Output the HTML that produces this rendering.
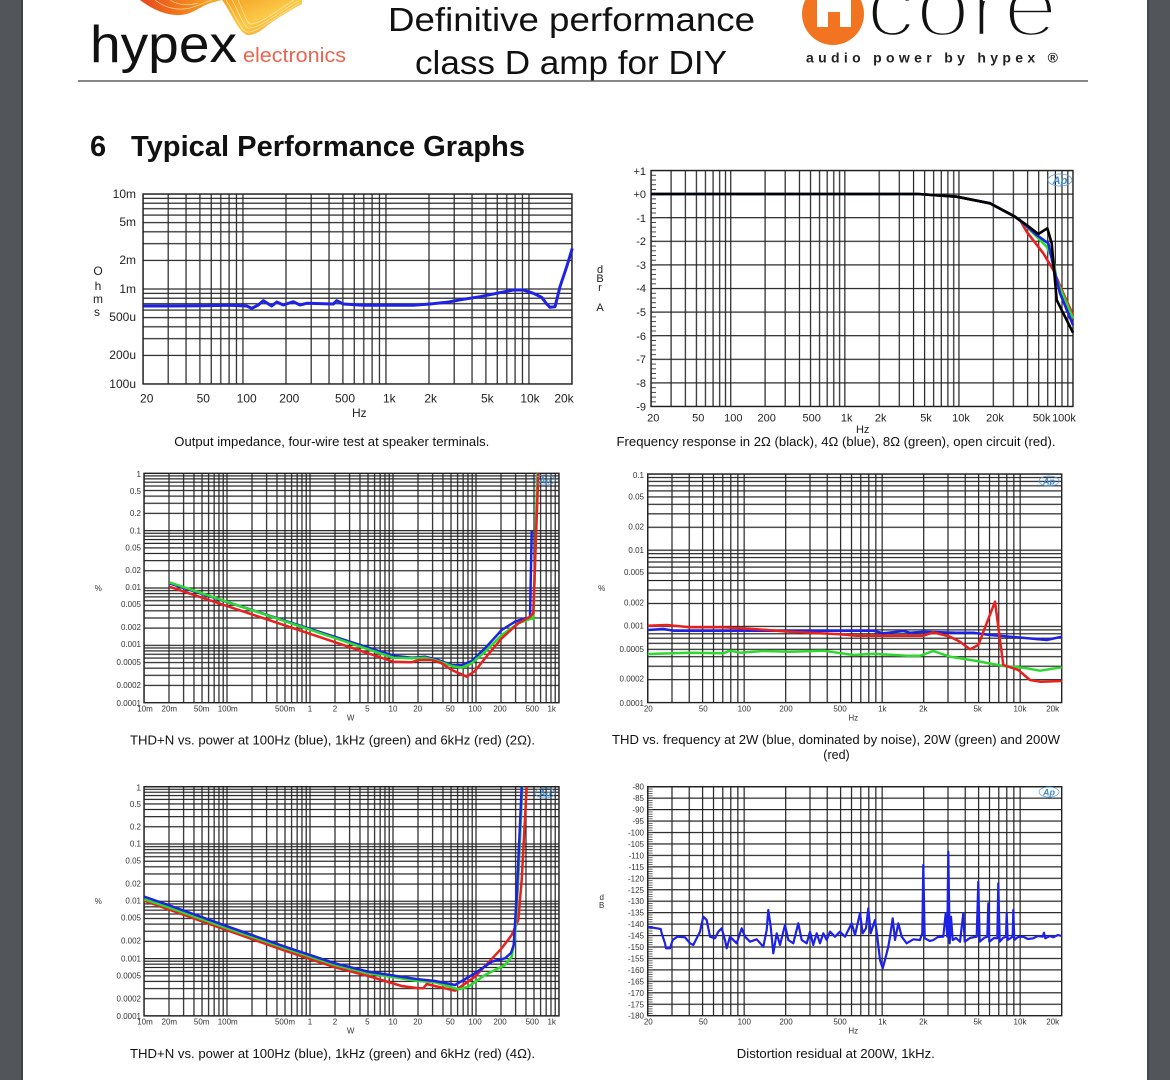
<!DOCTYPE html>
<html><head><meta charset="utf-8"><style>
html,body{margin:0;padding:0;background:#fff;}
svg{display:block;}
text{font-family:"Liberation Sans",Arial,sans-serif;}
</style></head><body>
<svg width="1170" height="1080" viewBox="0 0 1170 1080" xmlns="http://www.w3.org/2000/svg">
<defs>
<linearGradient id="gl" x1="0" y1="0" x2="1" y2="0"><stop offset="0" stop-color="#e8461c"/><stop offset="0.6" stop-color="#f4851e"/><stop offset="1" stop-color="#f8b02a"/></linearGradient>
<linearGradient id="gr" x1="0" y1="0" x2="1" y2="1"><stop offset="0" stop-color="#f6a021"/><stop offset="0.5" stop-color="#fbc948"/><stop offset="1" stop-color="#f39a2a"/></linearGradient>
<!-- chart1 -->
<pattern id="vx1" patternUnits="userSpaceOnUse" x="99.35" y="0" width="143" height="1080"><g fill="#222"><rect x="0" width="1.2" height="1080"/><rect x="43.05" width="1.2" height="1080"/><rect x="68.23" width="1.2" height="1080"/><rect x="86.09" width="1.2" height="1080"/><rect x="99.95" width="1.2" height="1080"/><rect x="111.28" width="1.2" height="1080"/><rect x="120.85" width="1.2" height="1080"/><rect x="129.14" width="1.2" height="1080"/><rect x="136.46" width="1.2" height="1080"/></g></pattern>
<pattern id="hy1" patternUnits="userSpaceOnUse" x="0" y="193.4" width="1170" height="95"><g fill="#222"><rect y="0" width="1170" height="1.2"/><rect y="4.35" width="1170" height="1.2"/><rect y="9.21" width="1170" height="1.2"/><rect y="14.72" width="1170" height="1.2"/><rect y="21.08" width="1170" height="1.2"/><rect y="28.6" width="1170" height="1.2"/><rect y="37.8" width="1170" height="1.2"/><rect y="49.67" width="1170" height="1.2"/><rect y="66.4" width="1170" height="1.2"/></g></pattern>
<!-- chart2 -->
<pattern id="vx2" patternUnits="userSpaceOnUse" x="616.05" y="0" width="114.1" height="1080"><g fill="#222"><rect x="0" width="1.2" height="1080"/><rect x="34.35" width="1.2" height="1080"/><rect x="54.44" width="1.2" height="1080"/><rect x="68.7" width="1.2" height="1080"/><rect x="79.75" width="1.2" height="1080"/><rect x="88.79" width="1.2" height="1080"/><rect x="96.43" width="1.2" height="1080"/><rect x="103.04" width="1.2" height="1080"/><rect x="108.88" width="1.2" height="1080"/></g></pattern>
<pattern id="hy2" patternUnits="userSpaceOnUse" x="0" y="169.9" width="1170" height="23.6"><rect y="0" width="1170" height="1.2" fill="#222"/></pattern>
<pattern id="tk2" patternUnits="userSpaceOnUse" x="651" y="170.1" width="10" height="4.72"><rect x="0" y="0" width="5" height="0.9" fill="#333"/></pattern>
<!-- chart3/5 -->
<pattern id="vx3" patternUnits="userSpaceOnUse" x="143.4" y="0" width="83" height="1080"><g fill="#222"><rect x="0" width="1.2" height="1080"/><rect x="24.99" width="1.2" height="1080"/><rect x="39.6" width="1.2" height="1080"/><rect x="49.97" width="1.2" height="1080"/><rect x="58.01" width="1.2" height="1080"/><rect x="64.59" width="1.2" height="1080"/><rect x="70.14" width="1.2" height="1080"/><rect x="74.96" width="1.2" height="1080"/><rect x="79.2" width="1.2" height="1080"/></g></pattern>
<pattern id="hy3" patternUnits="userSpaceOnUse" x="0" y="472.7" width="1170" height="57.35"><g fill="#222"><rect y="0" width="1170" height="1.2"/><rect y="2.62" width="1170" height="1.2"/><rect y="5.56" width="1170" height="1.2"/><rect y="8.89" width="1170" height="1.2"/><rect y="12.72" width="1170" height="1.2"/><rect y="17.26" width="1170" height="1.2"/><rect y="22.82" width="1170" height="1.2"/><rect y="29.99" width="1170" height="1.2"/><rect y="40.09" width="1170" height="1.2"/></g></pattern>
<pattern id="hy5" patternUnits="userSpaceOnUse" x="0" y="786.1" width="1170" height="57.3"><g fill="#222"><rect y="0" width="1170" height="1.2"/><rect y="2.62" width="1170" height="1.2"/><rect y="5.55" width="1170" height="1.2"/><rect y="8.88" width="1170" height="1.2"/><rect y="12.71" width="1170" height="1.2"/><rect y="17.25" width="1170" height="1.2"/><rect y="22.8" width="1170" height="1.2"/><rect y="29.96" width="1170" height="1.2"/><rect y="40.06" width="1170" height="1.2"/></g></pattern>
<!-- chart4/6 -->
<pattern id="vx4" patternUnits="userSpaceOnUse" x="605.56" y="0" width="138" height="1080"><g fill="#222"><rect x="0" width="1.2" height="1080"/><rect x="41.54" width="1.2" height="1080"/><rect x="65.84" width="1.2" height="1080"/><rect x="83.08" width="1.2" height="1080"/><rect x="96.46" width="1.2" height="1080"/><rect x="107.38" width="1.2" height="1080"/><rect x="116.62" width="1.2" height="1080"/><rect x="124.63" width="1.2" height="1080"/><rect x="131.69" width="1.2" height="1080"/></g></pattern>
<pattern id="hy4" patternUnits="userSpaceOnUse" x="0" y="473.4" width="1170" height="76.2"><g fill="#222"><rect y="0" width="1170" height="1.2"/><rect y="3.49" width="1170" height="1.2"/><rect y="7.38" width="1170" height="1.2"/><rect y="11.81" width="1170" height="1.2"/><rect y="16.91" width="1170" height="1.2"/><rect y="22.94" width="1170" height="1.2"/><rect y="30.32" width="1170" height="1.2"/><rect y="39.84" width="1170" height="1.2"/><rect y="53.26" width="1170" height="1.2"/></g></pattern>
<pattern id="hy6" patternUnits="userSpaceOnUse" x="0" y="786.1" width="1170" height="11.45"><rect y="0" width="1170" height="1.2" fill="#222"/></pattern>
<pattern id="tk6" patternUnits="userSpaceOnUse" x="647.7" y="786.3" width="10" height="2.29"><rect x="0" y="0" width="5" height="0.8" fill="#444"/></pattern>
</defs>

<!-- page frame -->
<rect x="0" y="0" width="1170" height="1080" fill="#fff"/>
<rect x="0" y="0" width="23" height="1080" fill="#52565a"/>
<rect x="21" y="0" width="2" height="1080" fill="#3e4145"/>
<rect x="1147" y="0" width="23" height="1080" fill="#52565a"/>
<rect x="1147" y="0" width="2" height="1080" fill="#44474b"/>

<!-- header: hypex logo -->
<path d="M140,0 C148,6 160,14 176,15 C190,16 198,8 208,4 C214,2 218,1 222,0 Z" fill="url(#gl)"/>
<path d="M222,0 C230,10 238,32 247,35 C256,36 264,28 272,22 C284,14 294,8 302,4 L302,0 Z" fill="url(#gr)"/>
<g fill="none" stroke="#fff3c4" stroke-width="0.7" opacity="0.8">
<path d="M226,0 C234,12 240,30 247,32 C256,33 268,22 300,3"/>
<path d="M232,0 C238,10 243,26 248,28 C258,29 270,18 298,1"/>
<path d="M238,0 C242,8 246,22 250,24 C260,24 272,14 294,0"/>
<path d="M155,0 C165,8 178,11 190,8 C200,5 206,2 212,0"/>
<path d="M170,0 C178,5 188,6 198,3"/>
</g>
<text x="90" y="62" font-size="52" textLength="147" lengthAdjust="spacingAndGlyphs" fill="#111">hypex</text>
<text x="243" y="62" font-size="20" textLength="103" lengthAdjust="spacingAndGlyphs" fill="#e9664f">electronics</text>

<!-- title -->
<text x="571.5" y="31" font-size="33" text-anchor="middle" textLength="367" lengthAdjust="spacingAndGlyphs" fill="#111">Definitive performance</text>
<text x="571" y="74" font-size="33" text-anchor="middle" textLength="312" lengthAdjust="spacingAndGlyphs" fill="#111">class D amp for DIY</text>

<!-- ncore logo -->
<circle cx="833" cy="14" r="31" fill="#f27420"/>
<path d="M817,0 H851 V27 H840 V12 H828 V27 H817 Z" fill="#fff"/>
<text x="866" y="36" font-size="88" textLength="192" lengthAdjust="spacingAndGlyphs" fill="#111" stroke="#fff" stroke-width="4.5">core</text>
<text x="806" y="62.5" font-size="14" font-weight="bold" textLength="252" lengthAdjust="spacing" fill="#222">audio power by hypex ®</text>

<!-- header rule -->
<rect x="78" y="80.3" width="1010" height="1.4" fill="#555"/>

<!-- heading -->
<text x="90" y="156" font-size="29" font-weight="bold" fill="#111">6</text>
<text x="131" y="156" font-size="29" font-weight="bold" textLength="394" lengthAdjust="spacingAndGlyphs" fill="#111">Typical Performance Graphs</text>

<!-- ================= CHART 1 ================= -->
<rect x="143" y="194" width="429" height="190" fill="url(#vx1)"/>
<rect x="143" y="194" width="429" height="190" fill="url(#hy1)"/>
<rect x="143" y="194" width="429" height="190" fill="none" stroke="#222" stroke-width="1.4"/>
<g font-size="12" fill="#222" text-anchor="end">
<text x="136" y="198">10m</text><text x="136" y="226">5m</text><text x="136" y="264">2m</text><text x="136" y="293">1m</text><text x="136" y="321">500u</text><text x="136" y="359">200u</text><text x="136" y="388">100u</text>
</g>
<g font-size="12" fill="#222" text-anchor="middle">
<text x="146.7" y="402.5">20</text><text x="203.3" y="402.5">50</text><text x="246.7" y="402.5">100</text><text x="289.3" y="402.5">200</text><text x="345" y="402.5">500</text><text x="389.3" y="402.5">1k</text><text x="430.7" y="402.5">2k</text><text x="487.3" y="402.5">5k</text><text x="530" y="402.5">10k</text><text x="564" y="402.5">20k</text>
<text x="359.3" y="417">Hz</text>
<text x="98" y="275">O</text><text x="98" y="290">h</text><text x="98" y="303">m</text><text x="97" y="316">s</text>
</g>
<polyline fill="none" stroke="#1e22e4" stroke-width="3" stroke-linejoin="round" points="143.3,306 170,306 203.3,305.7 230,305.3 246.7,306 251.7,308.3 258.3,305 263.3,300.7 271.7,306 276.7,302 283.3,305 293.3,301.7 300,305 306.7,303.3 333.3,304 336.7,300.7 343.3,304 363.3,305.3 413.3,305.3 430,304 446.7,302.3 463.3,299.3 480,296.7 496.7,293.3 513.3,290 523.3,290 533.3,293.3 541.7,297.3 546.7,304 550,307.3 555,306.7 560,286.7 566.7,266.7 572.3,248.3"/>
<text x="331.8" y="446" font-size="12.5" text-anchor="middle" textLength="315" lengthAdjust="spacingAndGlyphs" fill="#111">Output impedance, four-wire test at speaker terminals.</text>

<!-- ================= CHART 2 ================= -->
<rect x="651" y="170.5" width="422" height="236" fill="url(#vx2)"/>
<rect x="651" y="170.5" width="422" height="236" fill="url(#hy2)"/>
<rect x="651" y="170.5" width="5" height="236" fill="url(#tk2)"/>
<rect x="651" y="170.5" width="422" height="236" fill="none" stroke="#222" stroke-width="1.4"/>
<g font-size="11" fill="#222" text-anchor="end">
<text x="646" y="175">+1</text><text x="646" y="198">+0</text><text x="646" y="222">-1</text><text x="646" y="245">-2</text><text x="646" y="269">-3</text><text x="646" y="292">-4</text><text x="646" y="316">-5</text><text x="646" y="340">-6</text><text x="646" y="363">-7</text><text x="646" y="387">-8</text><text x="646" y="410.5">-9</text>
</g>
<g font-size="11" fill="#222" text-anchor="middle">
<text x="653.3" y="421.5">20</text><text x="698.3" y="421.5">50</text><text x="733.3" y="421.5">100</text><text x="766.7" y="421.5">200</text><text x="811.7" y="421.5">500</text><text x="846.7" y="421.5">1k</text><text x="880.7" y="421.5">2k</text><text x="926" y="421.5">5k</text><text x="961" y="421.5">10k</text><text x="995" y="421.5">20k</text><text x="1041.7" y="421.5">50k</text><text x="1064" y="421.5">100k</text>
<text x="862.7" y="433">Hz</text>
<text x="600" y="273">d</text><text x="600" y="282">B</text><text x="600" y="291">r</text><text x="600" y="311">A</text>
</g>
<g fill="none" stroke-width="2.6" stroke-linejoin="round">
<polyline stroke="#e8201e" points="651,194 918,194 956.7,196.7 990,203.3 1015,216.7 1020,220 1026.7,231.7 1043.3,253.3 1053.3,270 1063.3,293.3 1073,315"/>
<polyline stroke="#2fd82f" points="651,194 918,194 956.7,196.7 990,203.3 1015,216.7 1022,222 1030,230 1046.7,246.7 1053.3,260 1056.7,280 1073,318.3"/>
<polyline stroke="#1e22e4" points="651,194 918,194 956.7,196.7 990,203.3 1015,216.7 1026.7,226 1036.7,235 1048.3,243.3 1055,273.3 1060,293.3 1073,325"/>
<polyline stroke="#000" points="651,194 918,194 956.7,196.7 990,203.3 1015,216.7 1026.7,225 1038.3,234 1047.3,228.3 1051.7,243.3 1056.7,300 1063.3,313.3 1073,332.7"/>
</g>
<g transform="translate(1060,180)"><ellipse rx="12" ry="6" fill="none" stroke="#5a9bd5" stroke-width="0.8"/><text x="0" y="4" font-size="11" font-style="italic" font-weight="bold" fill="#3f8ad0" text-anchor="middle">Ap</text></g>
<text x="836" y="446" font-size="12.5" text-anchor="middle" textLength="439" lengthAdjust="spacingAndGlyphs" fill="#111">Frequency response in 2Ω (black), 4Ω (blue), 8Ω (green), open circuit (red).</text>

<!-- ================= CHART 3 ================= -->
<rect x="144" y="473.3" width="415" height="229.4" fill="url(#vx3)"/>
<rect x="144" y="473.3" width="415" height="229.4" fill="url(#hy3)"/>
<rect x="144" y="473.3" width="415" height="229.4" fill="none" stroke="#222" stroke-width="1.4"/>
<g font-size="8" fill="#333" text-anchor="end">
<text x="141" y="477">1</text><text x="141" y="494">0.5</text><text x="141" y="516">0.2</text><text x="141" y="533.5">0.1</text><text x="141" y="550.5">0.05</text><text x="141" y="573">0.02</text><text x="141" y="590">0.01</text><text x="141" y="607">0.005</text><text x="141" y="630">0.002</text><text x="141" y="647">0.001</text><text x="141" y="665">0.0005</text><text x="141" y="688">0.0002</text><text x="141" y="706">0.0001</text>
</g>
<g font-size="8" fill="#333" text-anchor="middle">
<text x="145" y="711.5">10m</text><text x="169.3" y="711.5">20m</text><text x="201.7" y="711.5">50m</text><text x="227.7" y="711.5">100m</text><text x="285" y="711.5">500m</text><text x="310" y="711.5">1</text><text x="335" y="711.5">2</text><text x="367.3" y="711.5">5</text><text x="393" y="711.5">10</text><text x="417.7" y="711.5">20</text><text x="450.3" y="711.5">50</text><text x="475" y="711.5">100</text><text x="500" y="711.5">200</text><text x="532.3" y="711.5">500</text><text x="551.7" y="711.5">1k</text>
<text x="350.7" y="720.5">W</text>
<text x="98.3" y="591">%</text>
</g>
<g fill="none" stroke-width="2.5" stroke-linejoin="round">
<polyline stroke="#1e22e4" points="169.3,583.3 393.3,655.7 411.7,657.7 425,656.7 438.3,660 451.7,665 461.7,665 471.7,661 485,648.3 501.7,630 515,621.7 525,618.3 530,617.7 531.7,530.7"/>
<polyline stroke="#2fd82f" points="169.3,582.3 393.3,657.7 411.7,658.3 425,657.7 438.3,661 451.7,666 461.7,667.7 471.7,663.3 485,651.7 501.7,635 518.3,623.3 531.7,618.3 533.3,619.3 535,565 537.3,473.3"/>
<polyline stroke="#e8201e" points="169.3,586.7 393.3,661.7 411.7,662.3 418.3,660 431.7,660 441.7,663.3 451.7,670 466.7,676.7 475,671 485,658.3 501.7,638.3 518.3,623.3 530,616.7 533.3,613.3 535,565 538.3,473.3"/>
</g>
<g transform="translate(545,480)"><ellipse rx="10" ry="5" fill="none" stroke="#5a9bd5" stroke-width="0.7"/><text x="0" y="3.5" font-size="9" font-style="italic" font-weight="bold" fill="#3f8ad0" text-anchor="middle">Ap</text></g>
<text x="332.5" y="744.5" font-size="12.5" text-anchor="middle" textLength="405" lengthAdjust="spacingAndGlyphs" fill="#111">THD+N vs. power at 100Hz (blue), 1kHz (green) and 6kHz (red) (2Ω).</text>

<!-- ================= CHART 4 ================= -->
<rect x="647.7" y="474" width="414" height="228.6" fill="url(#vx4)"/>
<rect x="647.7" y="474" width="414" height="228.6" fill="url(#hy4)"/>
<rect x="647.7" y="474" width="414" height="228.6" fill="none" stroke="#222" stroke-width="1.4"/>
<g font-size="8" fill="#333" text-anchor="end">
<text x="644" y="478">0.1</text><text x="644" y="499.5">0.05</text><text x="644" y="529.5">0.02</text><text x="644" y="553">0.01</text><text x="644" y="575">0.005</text><text x="644" y="605.5">0.002</text><text x="644" y="628.5">0.001</text><text x="644" y="652">0.0005</text><text x="644" y="681.5">0.0002</text><text x="644" y="706">0.0001</text>
</g>
<g font-size="8" fill="#333" text-anchor="middle">
<text x="648.3" y="711.5">20</text><text x="703.3" y="711.5">50</text><text x="744.3" y="711.5">100</text><text x="786" y="711.5">200</text><text x="840" y="711.5">500</text><text x="882.3" y="711.5">1k</text><text x="923.3" y="711.5">2k</text><text x="977.7" y="711.5">5k</text><text x="1020" y="711.5">10k</text><text x="1052.7" y="711.5">20k</text>
<text x="853.3" y="720.5">Hz</text>
<text x="601.7" y="591">%</text>
</g>
<g fill="none" stroke-width="2.5" stroke-linejoin="round">
<polyline stroke="#2fd82f" points="647.7,654 690,652.7 723.3,653.3 730,650.7 740,652.7 763.3,651 790,651.7 823.3,650.7 853.3,655 873.3,653.7 906.7,655.7 920,655.7 933.3,651 950,656.7 976.7,661 1003.3,666 1023.3,667.7 1040,670.7 1061.7,667.3"/>
<polyline stroke="#1e22e4" points="647.7,630 663.3,629 673.3,630.7 756.7,630.7 873.3,630.7 883.3,633.3 903.3,631 910,632.7 923.3,631.7 956.7,632.7 973.3,632.7 990,635 1016.7,637.3 1046.7,640 1061.7,636.7"/>
<polyline stroke="#e8201e" points="647.7,625.7 666.7,625 690,627.3 723.3,627.3 740,628.3 756.7,629.3 790,631.7 840,634.3 856.7,635.7 923.3,635.7 933.3,632.3 950,636.7 960,641.7 970,649.3 978.3,645 995,601.7 1003.3,665 1018.3,670 1030,680 1040,681.7 1061.7,681"/>
</g>
<g transform="translate(1049,481)"><ellipse rx="10" ry="5" fill="none" stroke="#5a9bd5" stroke-width="0.7"/><text x="0" y="3.5" font-size="9" font-style="italic" font-weight="bold" fill="#3f8ad0" text-anchor="middle">Ap</text></g>
<text x="836" y="744" font-size="12.5" text-anchor="middle" textLength="448" lengthAdjust="spacingAndGlyphs" fill="#111">THD vs. frequency at 2W (blue, dominated by noise), 20W (green) and 200W</text>
<text x="836.5" y="759" font-size="12.5" text-anchor="middle" fill="#111">(red)</text>

<!-- ================= CHART 5 ================= -->
<rect x="144" y="786.7" width="415" height="229.2" fill="url(#vx3)"/>
<rect x="144" y="786.7" width="415" height="229.2" fill="url(#hy5)"/>
<rect x="144" y="786.7" width="415" height="229.2" fill="none" stroke="#222" stroke-width="1.4"/>
<g font-size="8" fill="#333" text-anchor="end">
<text x="141" y="790.3">1</text><text x="141" y="807">0.5</text><text x="141" y="829.7">0.2</text><text x="141" y="846.3">0.1</text><text x="141" y="863.7">0.05</text><text x="141" y="886.3">0.02</text><text x="141" y="903.7">0.01</text><text x="141" y="920.7">0.005</text><text x="141" y="943.3">0.002</text><text x="141" y="961.3">0.001</text><text x="141" y="978.7">0.0005</text><text x="141" y="1001.3">0.0002</text><text x="141" y="1019">0.0001</text>
</g>
<g font-size="8" fill="#333" text-anchor="middle">
<text x="145" y="1024.5">10m</text><text x="169.3" y="1024.5">20m</text><text x="201.7" y="1024.5">50m</text><text x="227.7" y="1024.5">100m</text><text x="285" y="1024.5">500m</text><text x="310" y="1024.5">1</text><text x="335" y="1024.5">2</text><text x="367.3" y="1024.5">5</text><text x="393" y="1024.5">10</text><text x="417.7" y="1024.5">20</text><text x="450.3" y="1024.5">50</text><text x="475" y="1024.5">100</text><text x="500" y="1024.5">200</text><text x="532.3" y="1024.5">500</text><text x="551.7" y="1024.5">1k</text>
<text x="350.7" y="1033.5">W</text>
<text x="98.3" y="904">%</text>
</g>
<g fill="none" stroke-width="2.5" stroke-linejoin="round">
<polyline stroke="#e8201e" points="144.3,900.7 168.3,909.3 228.3,930.7 285,950.7 335,967.3 368.3,976 401.7,986 418.3,988.3 423.3,988.3 426.7,984 435,986 455,990.7 475,976.7 501.7,948.3 511.7,935 518.3,920 521.7,880 526.7,786.7"/>
<polyline stroke="#2fd82f" points="144.3,899.3 168.3,907.3 228.3,928.7 285,948.3 335,965 368.3,973.3 418.3,981 435,982.3 458.3,989.3 468.3,986.7 485,975 505,965 511.7,956.7 515,936.7 518.3,880 522.3,786.7"/>
<polyline stroke="#1e22e4" points="144.3,896.7 168.3,905 228.3,926.7 285,946.7 335,963.3 368.3,971.7 418.3,979.3 435,981 455,985 475,973.3 491.7,961.7 505,958.3 511,953 513.7,945 516.7,896.7 521.7,786.7"/>
</g>
<g transform="translate(545,793)"><ellipse rx="10" ry="5" fill="none" stroke="#5a9bd5" stroke-width="0.7"/><text x="0" y="3.5" font-size="9" font-style="italic" font-weight="bold" fill="#3f8ad0" text-anchor="middle">Ap</text></g>
<text x="332.5" y="1058" font-size="12.5" text-anchor="middle" textLength="405" lengthAdjust="spacingAndGlyphs" fill="#111">THD+N vs. power at 100Hz (blue), 1kHz (green) and 6kHz (red) (4Ω).</text>

<!-- ================= CHART 6 ================= -->
<rect x="647.7" y="786.7" width="414" height="229" fill="url(#vx4)"/>
<rect x="647.7" y="786.7" width="414" height="229" fill="url(#hy6)"/>
<rect x="647.7" y="786.7" width="5" height="229" fill="url(#tk6)"/>
<rect x="647.7" y="786.7" width="414" height="229" fill="none" stroke="#222" stroke-width="1.4"/>
<g font-size="8" fill="#333" text-anchor="end">
<text x="644" y="789.7">-80</text><text x="644" y="801.2">-85</text><text x="644" y="812.6">-90</text><text x="644" y="824.1">-95</text><text x="644" y="835.5">-100</text><text x="644" y="847">-105</text><text x="644" y="858.4">-110</text><text x="644" y="869.9">-115</text><text x="644" y="881.3">-120</text><text x="644" y="892.8">-125</text><text x="644" y="904.2">-130</text><text x="644" y="915.7">-135</text><text x="644" y="927.1">-140</text><text x="644" y="938.6">-145</text><text x="644" y="950">-150</text><text x="644" y="961.5">-155</text><text x="644" y="972.9">-160</text><text x="644" y="984.4">-165</text><text x="644" y="995.8">-170</text><text x="644" y="1007.3">-175</text><text x="644" y="1018.7">-180</text>
</g>
<g font-size="8" fill="#333" text-anchor="middle">
<text x="648.3" y="1024.5">20</text><text x="703.3" y="1024.5">50</text><text x="744.3" y="1024.5">100</text><text x="786" y="1024.5">200</text><text x="840" y="1024.5">500</text><text x="882.3" y="1024.5">1k</text><text x="923.3" y="1024.5">2k</text><text x="977.7" y="1024.5">5k</text><text x="1020" y="1024.5">10k</text><text x="1052.7" y="1024.5">20k</text>
<text x="853.3" y="1033.5">Hz</text>
<text x="601.7" y="900">d</text><text x="601.7" y="908">B</text>
</g>
<polyline fill="none" stroke="#1e22e4" stroke-width="2.2" stroke-linejoin="round" points="647.7,926.7 656.7,928.3 660.7,929 661.7,933.3 665,943.3 666,948.3 670,948.3 672.7,940 677.3,936.7 685,937.3 690,943.3 693.3,945 696.7,938.3 700,931.7 703.3,916.7 706.7,920 710,936.7 715,938.3 718.3,931.7 721.7,928.3 725,940 726.7,948.3 730,936.7 736.7,943.3 741.7,928.3 745,936.7 750,941.7 756.7,939.3 763.3,946.7 766.7,930 768.3,910 770.7,926.7 773.3,953.3 776.7,933.3 780,945 785,925 788.3,940 793.3,943.3 798.3,923.3 801.7,940 806.7,943.3 810,931.7 813.3,945 816.7,933.3 820,943.3 823.3,933.3 826.7,940 830,931.7 835,936.7 840,931.7 845,936.7 851.7,923.3 855,935 860,913.3 862.7,933.3 866,928.3 868.3,908.3 870.7,933.3 875,920 877.3,936.7 880,960 882.7,968.3 885,960 888.3,946.7 890,936.7 892.7,918.3 895,940 898.3,923.3 901.7,936.7 906.7,943.3 913.3,939.3 920,940 922.3,933.3 923.3,865 924.7,938.3 930,941 933.3,940 938,937 943.3,936.7 945.7,913.3 947.3,936.7 948.3,851.7 949.7,943.3 951,916.7 952.7,940 956,938 960,941.7 963.3,913.3 964.7,941.7 970,938 976.7,936.7 978.3,881.7 979.7,941.7 984,938 987.3,936.7 988.3,903.3 989.3,941.7 994,938 997.3,938.3 998.3,883.3 999.7,941.7 1003,938 1006,936.7 1006.7,913.3 1007.7,940 1012.7,936.7 1013.3,910 1014.3,940 1018,937 1023.3,936.7 1028,939 1033.3,938.3 1038,936 1042.7,936.7 1044,932.7 1045.3,938.3 1050,936 1053.3,937.3 1058,935 1061.7,936"/>
<g transform="translate(1049,792)"><ellipse rx="10" ry="5" fill="none" stroke="#5a9bd5" stroke-width="0.7"/><text x="0" y="3.5" font-size="9" font-style="italic" font-weight="bold" fill="#3f8ad0" text-anchor="middle">Ap</text></g>
<text x="835.8" y="1058" font-size="12.5" text-anchor="middle" textLength="198" lengthAdjust="spacingAndGlyphs" fill="#111">Distortion residual at 200W, 1kHz.</text>
</svg>
</body></html>
